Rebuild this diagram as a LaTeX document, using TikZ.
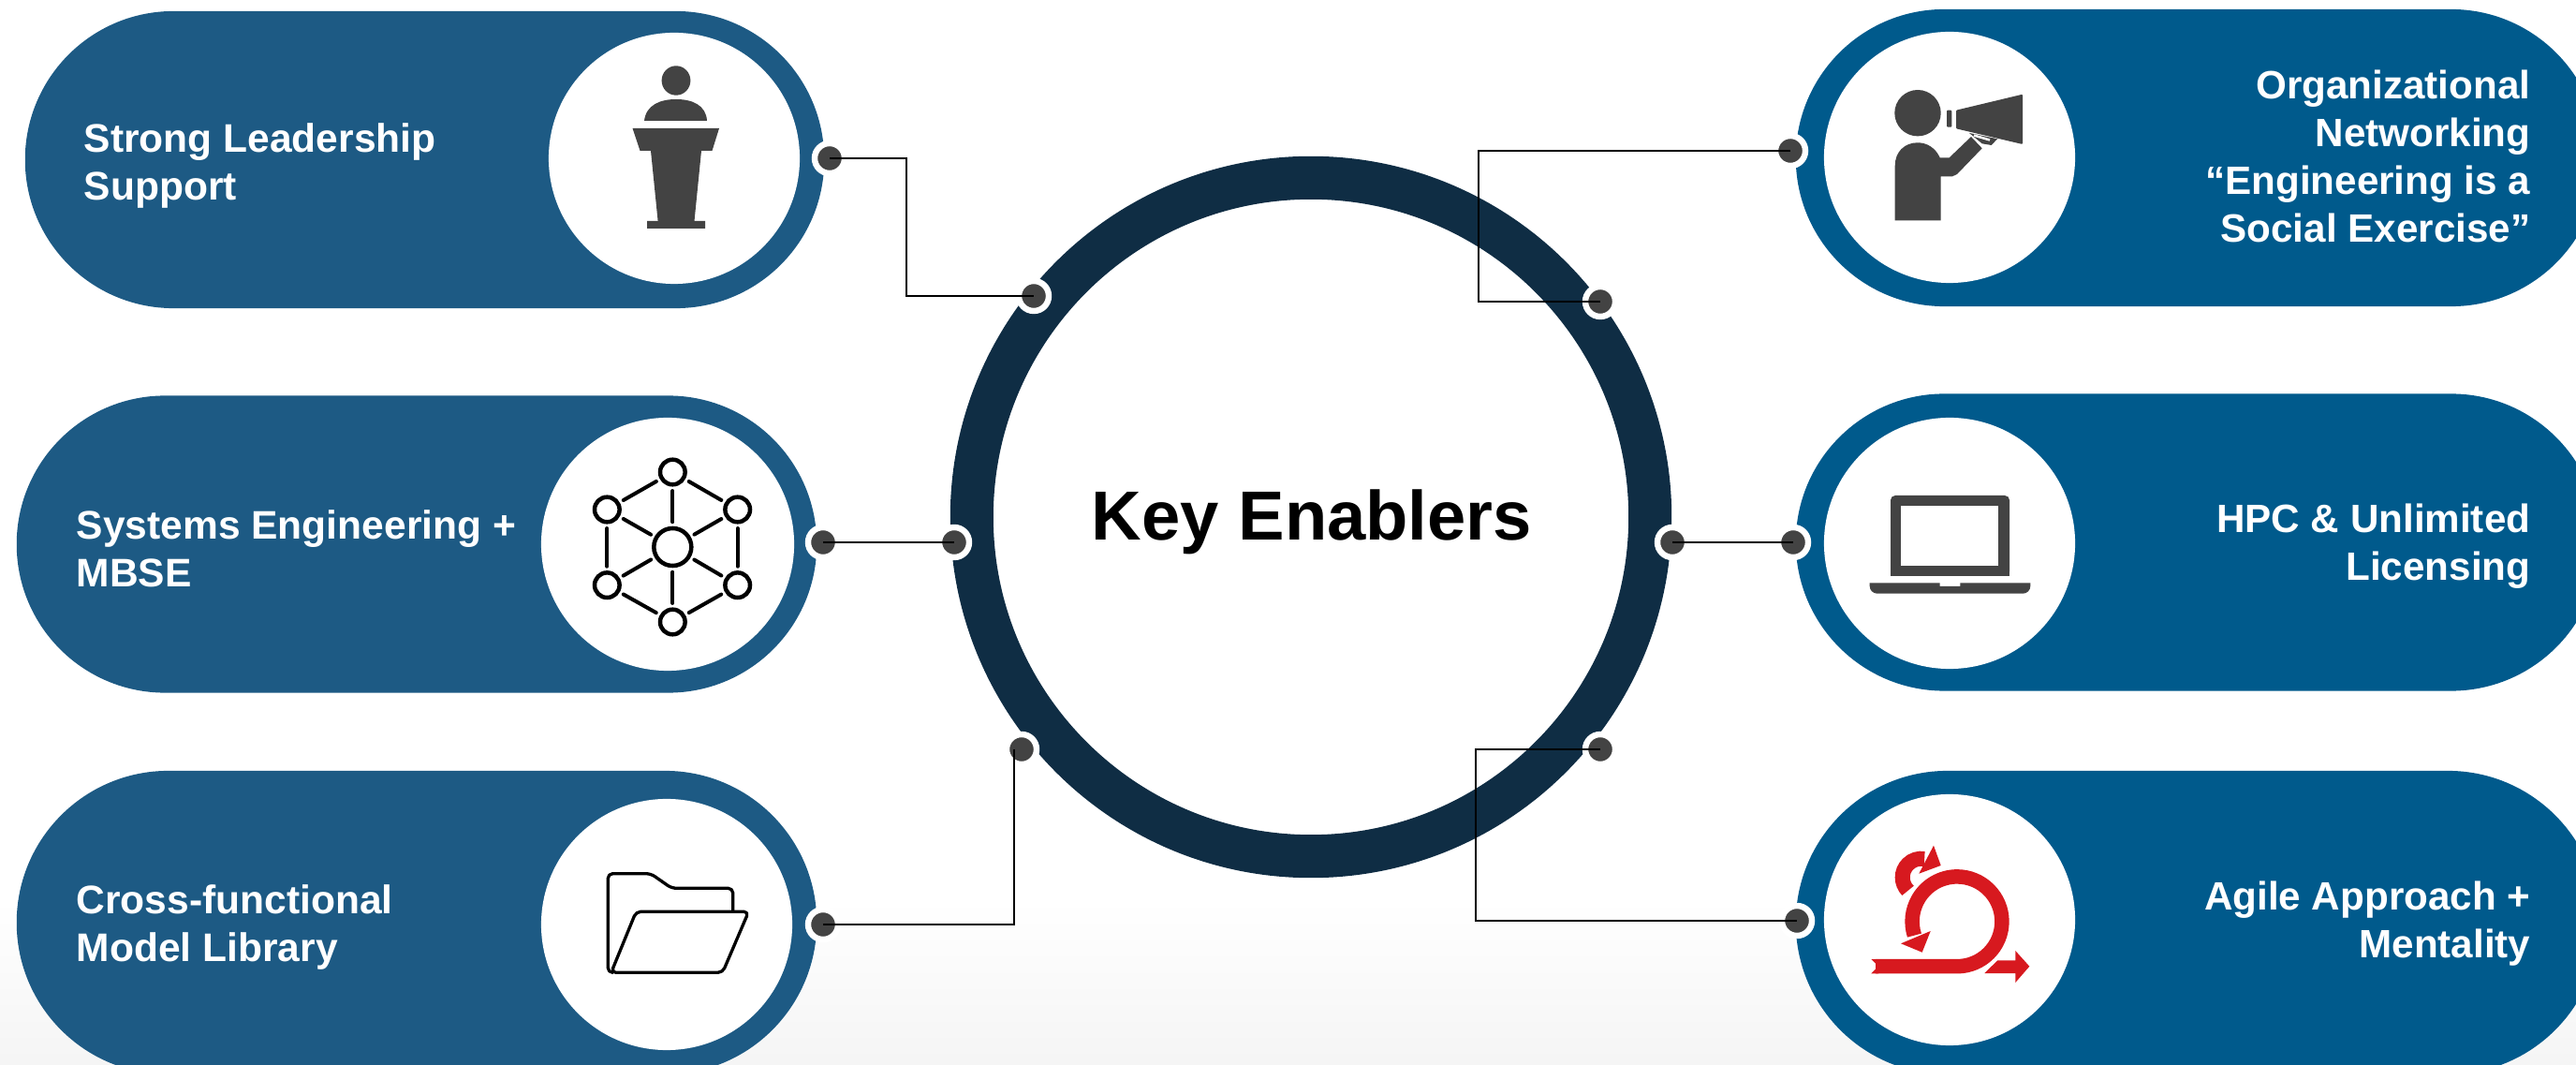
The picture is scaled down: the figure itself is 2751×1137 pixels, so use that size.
\documentclass[tikz,border=0pt]{standalone}
\usepackage{fontspec}
\setmainfont{Liberation Sans}
\usetikzlibrary{shapes.misc}
\definecolor{leftblue}{HTML}{1D5A84}
\definecolor{rightblue}{HTML}{005A8C}
\definecolor{ringblue}{HTML}{0F2D44}
\definecolor{icongray}{HTML}{434343}
\definecolor{agilered}{HTML}{D7191F}
\tikzstyle{p1} = [rounded rectangle, fill=leftblue, minimum height=3.17cm, inner sep=0]
\tikzstyle{p2} = [rounded rectangle, fill=rightblue, minimum width=8.58cm, minimum height=3.17cm, inner sep=0]
\tikzstyle{c1} = [circle, fill=white, minimum size=2.68cm, inner sep=0]
\tikzstyle{d1} = [circle, fill=icongray, draw=white, line width=.064cm, minimum size=.32cm, inner sep=0]
\tikzstyle{t1} = [anchor=west, align=left, inner sep=0, text=white, font=\fontsize{12.1}{14.5}\selectfont\bfseries]
\tikzstyle{t2} = [anchor=east, align=right, inner sep=0, text=white, font=\fontsize{12}{14.5}\selectfont\bfseries]
\tikzstyle{n1} = [circle, draw=black, line width=.045cm, minimum size=.266cm, inner sep=0]
\tikzstyle{n2} = [circle, draw=black, line width=.045cm, minimum size=.40cm, inner sep=0]
\tikzstyle{s1} = [line width=.04cm, line cap=round, shorten >=.045cm, shorten <=.045cm]
\tikzstyle{f1} = [line width=.033cm, line join=round, rounded corners=.05cm]
\tikzstyle{w1} = [draw=black, line width=.028cm]
\begin{document}
\begin{tikzpicture}[x=.01cm, y=-.01cm]
\useasboundingbox (0,0) rectangle (2751,1137);
\clip (0,0) rectangle (2751,1137);
\shade[top color=white, bottom color=black!4] (0,960) rectangle (2751,1137);
\node(K)[circle, fill=white, draw=ringblue, line width=.46cm, minimum size=7.24cm, inner sep=0] at (1400,552) {};
\node(KT)[font=\fontsize{21.1}{25}\selectfont\bfseries, text=black] at (1401,557) {Key Enablers};
\node(A)[p1, minimum width=8.53cm] at (453.5,170.5) {};
\node(B)[p1, minimum width=8.54cm] at (445,581) {};
\node(C)[p1, minimum width=8.54cm, minimum height=3.24cm] at (445,985) {};
\node(D)[p2] at (2347,168.5) {};
\node(E)[p2] at (2347,579) {};
\node(F)[p2, minimum height=3.24cm] at (2347,985) {};
\node(A1)[c1] at (720,169) {};
\node(B1)[c1, minimum size=2.7cm] at (713,581) {};
\node(C1)[c1] at (712,987) {};
\node(D1)[c1] at (2082,168) {};
\node(E1)[c1] at (2082,580) {};
\node(F1)[c1] at (2082,982) {};
\node(AT)[t1] at (89,177) {Strong Leadership\\Support};
\node(BT)[t1] at (81,586) {Systems Engineering +\\MBSE};
\node(CT)[t1] at (81,990) {Cross-functional\\Model Library};
\node(DT)[t2] at (2703,167) {Organizational\\Networking\\“Engineering is a\\Social Exercise”};
\node(ET)[t2] at (2703,583) {HPC \& Unlimited\\Licensing};
\node(FT)[t2] at (2703,986) {Agile Approach +\\Mentality};
\node(A2)[d1] at (886,169) {};
\node(B2)[d1] at (879,579) {};
\node(C2)[d1] at (879,987) {};
\node(D2)[d1] at (1912,161) {};
\node(E2)[d1] at (1915,579) {};
\node(F2)[d1] at (1919,983) {};
\node(A3)[d1] at (1104,316) {};
\node(B3)[d1] at (1019,579) {};
\node(C3)[d1] at (1091,800) {};
\node(D3)[d1] at (1709,322) {};
\node(E3)[d1] at (1786,579) {};
\node(F3)[d1] at (1709,800) {};
\coordinate(AB) at (968,240);
\coordinate(CB) at (1083,800);
\coordinate(DB) at (1579,240);
\coordinate(FB) at (1576,900);
\draw[w1](A2.center)-|(AB)|-(A3.center);
\draw[w1](B2.center)--(B3.center);
\draw[w1](C2.center)-|(CB);
\draw[w1](D2.center)-|(DB)|-(D3.center);
\draw[w1](E3.center)--(E2.center);
\draw[w1](F3.center)-|(FB)|-(F2.center);
\fill[icongray] (722,86) ellipse (15.4 and 15.7);
\fill[icongray] (688,129) .. controls (690,112) and (705,106) .. (722,106) .. controls (739,106) and (754,112) .. (755,129) -- cycle;
\fill[icongray] (675.5,137) -- (768,137) -- (760.5,161) -- (749,161) -- (741.5,236) -- (753,236) -- (753,244) -- (691,244) -- (691,236) -- (702.6,236) -- (695,161) -- (683.5,161) -- cycle;
\node(N0)[n2] at (718.3,584) {};
\node(N1)[n1] at (718.3,504) {};
\node(N2)[n1] at (787.7,544) {};
\node(N3)[n1] at (787.7,624.7) {};
\node(N4)[n1] at (718.3,664) {};
\node(N5)[n1] at (648.3,624.7) {};
\node(N6)[n1] at (648.3,544) {};
\draw[s1](N1)--(N0);
\draw[s1](N2)--(N0);
\draw[s1](N3)--(N0);
\draw[s1](N4)--(N0);
\draw[s1](N5)--(N0);
\draw[s1](N6)--(N0);
\draw[s1](N1)--(N2);
\draw[s1](N2)--(N3);
\draw[s1](N3)--(N4);
\draw[s1](N4)--(N5);
\draw[s1](N5)--(N6);
\draw[s1](N6)--(N1);
\draw[f1] (782.7,973.3) -- (782.7,948.3) -- (717.3,948.3) -- (695,932.7) -- (649.3,932.7) -- (649.3,1038.3) -- (655,1038.3);
\draw[f1] (652.7,1038.3) -- (679.3,973.3) -- (799.5,973.3) -- (771.7,1038.3) -- cycle;
\fill[icongray] (2048,120.7) circle (24.7);
\fill[icongray] (2023.7,235.3) -- (2023.7,177) .. controls (2023.7,162) and (2034,152.3) .. (2048,152.3) .. controls (2058,152.3) and (2067,158) .. (2071.7,168.3) -- (2081.7,168.3) -- (2105,146) -- (2116.7,158.3) -- (2090,186) -- (2085,188.3) -- (2072.7,188.3) -- (2072.7,235.3) -- cycle;
\fill[icongray, rounded corners=.01cm] (2079,117.7) rectangle (2084.3,135.7);
\fill[icongray, rounded corners=.01cm] (2089,117.7) -- (2160,100.7) -- (2160,154) -- (2089,137.3) -- cycle;
\fill[icongray] (2103,142) -- (2133,148.3) -- (2126.7,155) -- (2116.7,153.3) -- cycle;
\draw[white, line width=.025cm] (2108,144.5) -- (2125,149.5);
\fill[icongray, rounded corners=.05cm] (2019,615) -- (2019,529) -- (2146,529) -- (2146,615) -- cycle;
\fill[icongray] (2019,605) rectangle (2146,615);
\fill[white] (2030.3,540.3) rectangle (2134.3,603.7);
\fill[icongray] (1996.7,622.3) -- (2071.7,622.3) -- (2071.7,626) -- (2093.3,626) -- (2093.3,622.3) -- (2168.3,622.3) -- (2168.3,625.7) arc (0:90:8) -- (2004.7,633.7) arc (90:180:8) -- cycle;
\draw[agilered, line width=.155cm] (2003,1031.7) -- (2090,1031.7) arc (90:-198:47.9);
\fill[agilered] (1998.3,1024) -- (2006,1024) -- (2006,1039.4) -- (1998.3,1039.4) -- (2006,1031.7) -- cycle;
\fill[agilered] (2061.7,994) -- (2030,1007.3) -- (2052.7,1016.7) -- cycle;
\draw[agilered, line width=.16cm] (2051.7,936.7) ++(135:20) arc (135:280:20);
\fill[agilered] (2065,902.7) -- (2072.7,924) -- (2049.3,932.7) -- cycle;
\fill[agilered] (2119.3,1039) -- (2133.3,1025.3) -- (2152.3,1025.3) -- (2152.3,1015) -- (2167.3,1031.7) -- (2152.3,1049) -- (2152.3,1039) -- cycle;
\end{tikzpicture}
\end{document}
